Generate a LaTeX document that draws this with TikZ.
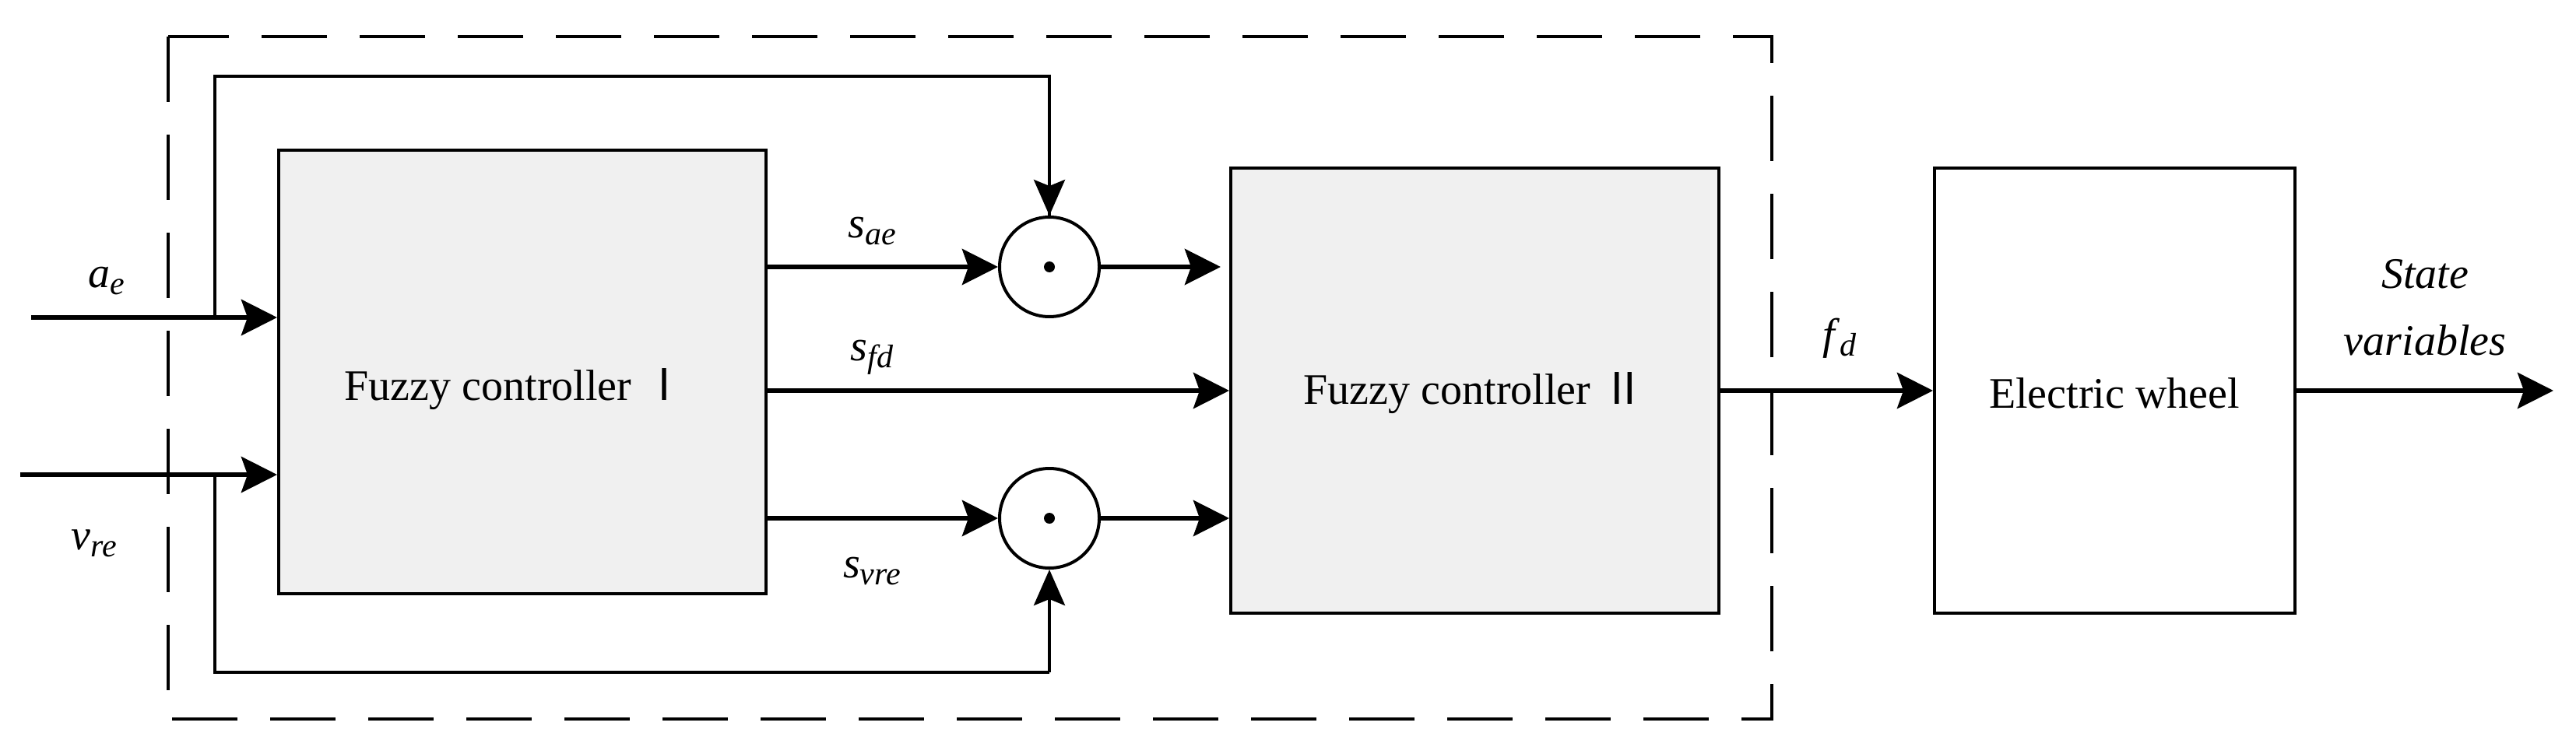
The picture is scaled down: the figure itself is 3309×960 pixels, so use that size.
\documentclass[tikz,border=0pt]{standalone}
\usepackage{fontspec}
\setmainfont{Liberation Serif}
\newfontfamily\cjk{Noto Sans CJK SC}
\usetikzlibrary{arrows.meta}
\newcommand{\lsub}[2]{\textit{#1}\raisebox{-0.35ex}{\fontsize{42}{42}\selectfont\itshape #2}}
\begin{document}
\begin{tikzpicture}[x=1pt,y=-1pt,
  txt/.style={font=\fontsize{56}{64}\selectfont},
  blk/.style={draw,line width=4pt,inner sep=0pt},
  arr/.style={line width=6pt,-{Stealth[length=46pt,width=46pt,inset=8pt]}},
  thin/.style={line width=4pt},
  tarr/.style={line width=4pt,-{Stealth[length=46pt,width=40pt,inset=8pt]}},
  mul/.style={draw,circle,line width=4pt,minimum size=128pt,inner sep=0pt}]
\useasboundingbox (0,0) rectangle (3309,960);
\draw[line width=4pt,dash pattern=on 84pt off 42pt] (216,47) rectangle (2276,924);
\node[blk,fill=black!6,minimum width=626pt,minimum height=570pt] (fc1) at (671,478) {};
\node[txt] at (662,500) {Fuzzy controller \cjk{Ⅰ}};
\node[blk,fill=black!6,minimum width=627pt,minimum height=572pt] (fc2) at (1894.5,502) {};
\node[txt] at (1894,505) {Fuzzy controller \cjk{Ⅱ}};
\node[blk,minimum width=463pt,minimum height=572pt] (ew) at (2716.5,502) {};
\node[txt] at (2716,505) {Electric wheel};
\node[mul] (m1) at (1348,343) {};
\node[mul] (m2) at (1348,666) {};
\fill (m1) circle (7pt);
\fill (m2) circle (7pt);
\coordinate (ain) at (40,408);
\coordinate (vin) at (26,610);
\coordinate (ta) at (276,408);
\coordinate (tv) at (276,610);
\coordinate (m1o) at (1568,343);
\coordinate (out) at (3280,502);
\draw[arr] (ain) -- (ain -| fc1.west);
\draw[arr] (vin) -- (vin -| fc1.west);
\draw[thin] (ta) -- (276,98) -| (m1.north) ;
\draw[tarr] (1348,98) -- (m1.north);
\draw[thin] (tv) -- (276,864) -- (1348,864);
\draw[tarr] (1348,864) -- (m2.south);
\draw[arr] (fc1.east |- m1) -- (m1.west);
\draw[arr] (m1.east) -- (m1o);
\draw[arr] (fc1.east |- fc2) -- (fc2.west);
\draw[arr] (fc1.east |- m2) -- (m2.west);
\draw[arr] (m2.east) -- (fc2.west |- m2);
\draw[arr] (fc2.east) -- (ew.west);
\draw[arr] (ew.east) -- (out);
\node[txt] at (137,361) {\textit{a}\raisebox{-0.35ex}{\fontsize{42}{42}\selectfont\itshape e}};
\node[txt] at (121,698) {\lsub{v}{re}};
\node[txt] at (1120,297) {\lsub{s}{ae}};
\node[txt] at (1120,459) {\lsub{s}{fd}};
\node[txt] at (1120,734) {\lsub{s}{vre}};
\node[txt] at (2363,435) {\lsub{f}{d}};
\node[txt,align=center,font=\fontsize{56}{86}\selectfont\itshape] at (3115,395) {State\\variables};
\end{tikzpicture}
\end{document}
